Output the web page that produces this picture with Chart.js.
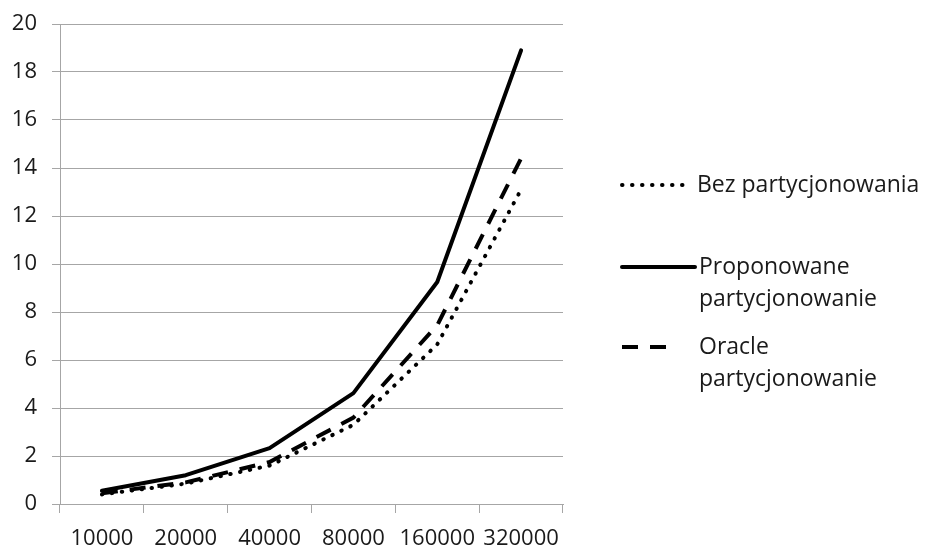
<!DOCTYPE html>
<html>
<head>
<meta charset="utf-8">
<script src="https://cdn.jsdelivr.net/npm/chart.js@4/dist/chart.umd.min.js"></script>
<style>
  html, body { margin: 0; padding: 0; background: #ffffff; }
  #wrap { position: relative; width: 927px; height: 549px; }
</style>
</head>
<body>
<div id="wrap"><canvas id="c" width="927" height="549"></canvas></div>
<script>
// Row counts on the category axis
const categories = ['10000', '20000', '40000', '80000', '160000', '320000'];

// Query times per partitioning variant
const bezPartycjonowania = [0.40, 0.85, 1.60, 3.30, 6.65, 13.10];
const proponowanePartycjonowanie = [0.55, 1.20, 2.33, 4.62, 9.25, 18.90];
const oraclePartycjonowanie = [0.45, 0.90, 1.75, 3.60, 7.45, 14.40];

// Legend entries (each entry may span several lines)
const legendLabels = [
  ['Bez partycjonowania'],
  ['Proponowane', 'partycjonowanie'],
  ['Oracle', 'partycjonowanie']
];

// Value axis ticks
const yMin = 0, yMax = 20, yStep = 2;

const FONT = '"Open Sans", "Liberation Sans", sans-serif';
const TICK_SIZE = 22;
const LEGEND_SIZE = 23;
const TEXT = '#1a1a1a';
const GRID = '#a6a6a6';

// Legend drawn to the right of the plot, with multi-line labels
const sideLegend = {
  id: 'sideLegend',
  afterDraw(chart) {
    const ctx = chart.ctx;
    const rows = [
      { ds: 0, y: 185, x0: 622, x1: 687 },
      { ds: 1, y: 267, x0: 622, x1: 695 },
      { ds: 2, y: 347, x0: 622, x1: 678 }
    ];
    const lineH = 32;
    ctx.save();
    rows.forEach((r) => {
      const ds = chart.data.datasets[r.ds];
      ctx.beginPath();
      ctx.strokeStyle = ds.borderColor;
      ctx.lineWidth = ds.borderWidth;
      ctx.lineCap = ds.borderCapStyle || 'butt';
      ctx.setLineDash(ds.borderDash || []);
      ctx.moveTo(r.x0, r.y);
      ctx.lineTo(r.x1, r.y);
      ctx.stroke();
      ctx.setLineDash([]);
      ctx.fillStyle = TEXT;
      ctx.font = LEGEND_SIZE + 'px ' + FONT;
      ctx.textAlign = 'left';
      ctx.textBaseline = 'middle';
      const tx = r.ds === 0 ? 697 : 699;
      legendLabels[r.ds].forEach((line, i) => {
        ctx.fillText(line, tx, r.y + i * lineH);
      });
    });
    ctx.restore();
  }
};

new Chart(document.getElementById('c'), {
  type: 'line',
  data: {
    labels: categories,
    datasets: [
      {
        label: legendLabels[0].join(' '),
        data: bezPartycjonowania,
        borderColor: '#000000',
        borderWidth: 4,
        borderDash: [0.5, 9.5],
        borderCapStyle: 'round',
        pointRadius: 0,
        tension: 0,
        fill: false
      },
      {
        label: legendLabels[1].join(' '),
        data: proponowanePartycjonowanie,
        borderColor: '#000000',
        borderWidth: 4,
        borderDash: [],
        borderCapStyle: 'round',
        borderJoinStyle: 'round',
        pointRadius: 0,
        tension: 0,
        fill: false
      },
      {
        label: legendLabels[2].join(' '),
        data: oraclePartycjonowanie,
        borderColor: '#000000',
        borderWidth: 4,
        borderDash: [16, 12],
        borderCapStyle: 'butt',
        pointRadius: 0,
        tension: 0,
        fill: false
      }
    ]
  },
  options: {
    responsive: false,
    animation: false,
    layout: { padding: { left: 0, right: 364, top: 24, bottom: 0 } },
    plugins: {
      legend: { display: false },
      tooltip: { enabled: false },
      title: { display: false }
    },
    scales: {
      x: {
        type: 'category',
        offset: true,
        grid: {
          display: true,
          offset: true,
          drawOnChartArea: false,
          drawTicks: true,
          tickLength: 9,
          color: GRID,
          lineWidth: 1
        },
        border: { display: true, color: GRID, width: 1 },
        ticks: {
          color: TEXT,
          font: { family: FONT, size: TICK_SIZE },
          padding: 13,
          maxRotation: 0,
          minRotation: 0,
          autoSkip: false
        },
        afterFit(s) { s.height = 45; s.paddingLeft = 0; s.paddingRight = 0; }
      },
      y: {
        min: yMin,
        max: yMax,
        grid: {
          color: GRID,
          lineWidth: 1,
          drawTicks: true,
          tickLength: 8
        },
        border: { display: true, color: GRID, width: 1 },
        ticks: {
          stepSize: yStep,
          color: TEXT,
          font: { family: FONT, size: TICK_SIZE },
          padding: 15
        },
        afterFit(s) { s.width = 60; s.paddingTop = 0; s.paddingBottom = 0; }
      }
    }
  },
  plugins: [sideLegend]
});
</script>
</body>
</html>
